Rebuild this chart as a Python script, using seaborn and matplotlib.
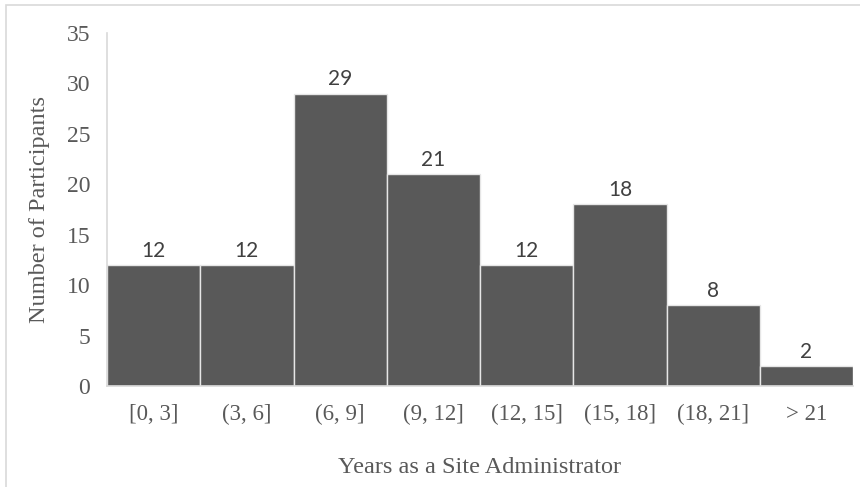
import matplotlib
matplotlib.use("Agg")
import matplotlib.pyplot as plt
from matplotlib.patches import Rectangle
import seaborn as sns
import pandas as pd

# Years-of-service bins and participant counts
bins = ["[0, 3]", "(3, 6]", "(6, 9]", "(9, 12]", "(12, 15]", "(15, 18]", "(18, 21]", "> 21"]
counts = [12, 12, 29, 21, 12, 18, 8, 2]
y_ticks = [0, 5, 10, 15, 20, 25, 30, 35]

df = pd.DataFrame({"bin": bins, "count": counts})

sns.set_style("white")
serif = "Liberation Serif"
label_font = "Lato"
grey_text = "#595959"
axis_grey = "#d9d9d9"

fig = plt.figure(figsize=(8.6, 4.87), dpi=100)
ax = fig.add_axes([107 / 860, 1 - 386 / 487, 746 / 860, 353 / 487])

sns.barplot(data=df, x="bin", y="count", order=bins, color="#595959",
            saturation=1, width=1.0, edgecolor="#e6e6e6", linewidth=1.0, ax=ax)

ax.set_ylim(0, 35)
ax.set_xlim(-0.5, len(bins) - 0.5)
ax.set_yticks(y_ticks)
ax.set_yticklabels([str(t) for t in y_ticks], fontfamily=serif, fontsize=17, color=grey_text)
ax.set_xticks(range(len(bins)))
ax.set_xticklabels(bins, fontfamily=serif, fontsize=16.5, color=grey_text)

ax.tick_params(axis="y", length=0, pad=12)
ax.tick_params(axis="x", direction="in", length=4, width=1, color=axis_grey, pad=13)

for side in ["top", "right"]:
    ax.spines[side].set_visible(False)
for side in ["left", "bottom"]:
    ax.spines[side].set_color(axis_grey)
    ax.spines[side].set_linewidth(1.2)

ax.set_xlabel("Years as a Site Administrator", fontfamily=serif, fontsize=17.5,
              color=grey_text, labelpad=23)
ax.set_ylabel("Number of Participants", fontfamily=serif, fontsize=17.5,
              color=grey_text, labelpad=12)

for container in ax.containers:
    ax.bar_label(container, labels=[str(v) for v in counts], padding=3,
                 fontfamily=label_font, fontsize=15, color="#404040")

# Light frame around the chart area
fig.patches.append(Rectangle((6 / 860, -0.1), 1.0, 1 - 5 / 487 + 0.1,
                             transform=fig.transFigure, fill=False,
                             edgecolor=axis_grey, linewidth=1.2, clip_on=False))

fig.savefig("out.png", dpi=100, facecolor="white")
